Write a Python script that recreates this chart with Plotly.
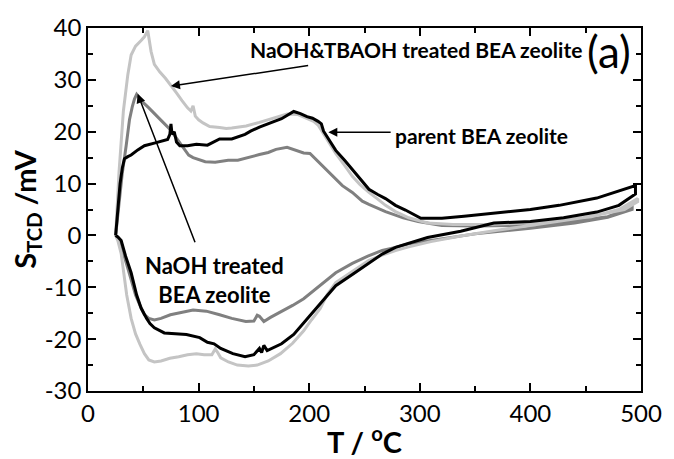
import plotly.graph_objects as go

# ---- data: parent BEA zeolite (black) ----
parent_up_x = [25, 27, 29, 31, 33, 36, 39, 45, 51, 60, 68, 72, 74, 75, 76, 78, 80, 83, 90, 98, 108, 119, 130, 142, 147, 155, 165, 175, 186, 192, 198, 203, 208, 211, 213, 218, 224, 232, 239, 246, 254, 262, 269, 278, 287, 301, 320, 340, 367, 400, 426, 460, 495]
parent_up_y = [0, 5, 10, 13, 14.8, 15.2, 15.5, 16.5, 17.3, 17.8, 18.3, 18.5, 19.5, 21.5, 19.5, 20.0, 18.0, 17.3, 17.3, 17.6, 17.4, 18.6, 18.6, 19.5, 20.1, 20.9, 21.7, 22.5, 23.9, 23.5, 22.9, 22.6, 22.0, 21.5, 20.1, 18.5, 16.4, 14.5, 12.7, 10.8, 8.9, 7.9, 7.1, 5.8, 4.9, 3.3, 3.3, 3.7, 4.3, 5.0, 5.8, 7.2, 9.6]
parent_lo_x = [495, 480, 460, 430, 400, 367, 337, 307, 278, 266, 254, 240, 224, 214, 204, 195, 186, 175, 166, 162, 159, 157, 155, 150, 142, 131, 120, 114, 108, 101, 89, 78, 69, 60, 56, 53, 48, 44, 39, 34, 30, 27, 25]
parent_lo_y = [8.0, 5.8, 4.5, 3.4, 2.7, 2.4, 0.8, -0.4, -2.3, -3.6, -5.4, -7.4, -9.7, -12.2, -14.7, -17.0, -19.1, -20.9, -21.9, -22.2, -21.2, -22.6, -21.8, -23.0, -23.4, -22.8, -21.8, -20.9, -20.6, -19.7, -19.1, -19.0, -18.8, -17.8, -17.0, -16.0, -14.0, -11.5, -7.2, -4.0, -1.0, -0.3, 0]

# ---- data: NaOH treated BEA zeolite (dark gray) ----
naoh_up_x = [25, 28, 31, 34.5, 37.5, 40, 42, 44, 46, 50, 55, 60, 67, 74.5, 80, 85, 89, 91, 95, 100, 106, 115, 126.7, 135.5, 147, 155, 163, 170, 180, 188, 195, 200.7, 209.6, 217, 224, 230, 239, 248, 254, 260, 269, 285, 298.5, 320, 350, 400, 440, 470, 492]
naoh_up_y = [0, 6, 12, 17.3, 22.3, 24.8, 26.3, 27.2, 26.6, 25.6, 24.6, 23.6, 22.0, 20.4, 18.8, 17.3, 16.1, 15.5, 15.0, 14.6, 14.2, 14.1, 14.5, 14.5, 15.2, 15.6, 16.0, 16.6, 17.0, 16.4, 15.9, 15.8, 13.9, 12.4, 10.8, 9.6, 8.3, 6.6, 6.0, 5.4, 4.6, 3.4, 2.7, 1.9, 1.8, 2.0, 2.8, 3.6, 5.5]
naoh_lo_x = [492, 470, 440, 400, 350, 310, 290, 278, 266, 253, 239, 224, 210, 195, 185, 174, 165, 159, 155, 153, 150, 142.7, 130, 119, 107, 95, 85, 74.5, 66, 60, 55, 51, 47, 43, 39, 35, 31, 28.6, 25]
naoh_lo_y = [5.0, 3.5, 2.4, 1.4, 0.3, -1.0, -1.6, -2.3, -2.9, -4.0, -5.4, -7.2, -9.6, -12.2, -13.5, -14.7, -15.8, -16.6, -15.6, -15.4, -16.5, -16.6, -16.0, -15.3, -14.6, -14.4, -14.8, -15.3, -16.0, -16.3, -16.0, -15.3, -13.5, -11.5, -8.5, -5.5, -2.8, -1.0, 0]

# ---- data: NaOH&TBAOH treated BEA zeolite (light gray) ----
tba_up_x = [25, 28, 32, 36, 39, 43, 48, 51, 54, 55, 57, 60, 65, 70, 75, 80, 85, 90, 93, 95, 97, 100, 104, 110, 119, 125, 130, 143, 155, 165, 172, 180, 190, 198, 204, 208, 213, 218, 224, 232, 239, 246, 254, 262, 269, 278, 290, 307, 330, 360, 396, 430, 455, 480, 497]
tba_up_y = [0, 12, 24, 31, 34.8, 36.5, 37.6, 38.3, 39.5, 38.0, 35.5, 33.0, 31.5, 30.3, 29.0, 27.5, 26.0, 24.6, 24.0, 25.0, 23.0, 22.3, 21.7, 21.0, 20.8, 20.6, 20.7, 21.1, 21.8, 22.5, 22.9, 23.4, 23.3, 22.6, 22.0, 21.3, 19.5, 17.8, 15.8, 13.5, 11.4, 9.8, 8.3, 7.0, 5.8, 4.6, 3.4, 2.4, 2.1, 2.1, 2.4, 3.0, 3.6, 5.0, 7.1]
tba_lo_x = [497, 485, 450, 420, 396, 370, 337, 310, 290, 278, 266, 254, 240, 224, 216, 210, 202, 195, 185, 174, 163, 153, 145, 135, 127, 120, 117, 115, 112, 105, 98, 90, 82, 74, 66, 60, 55, 51, 47, 43, 39, 35, 30, 27, 25]
tba_lo_y = [6.5, 5.0, 3.5, 2.6, 1.8, 1.0, -0.1, -1.2, -2.2, -2.9, -3.8, -4.8, -6.8, -9.1, -11.5, -14.1, -16.3, -18.4, -20.8, -22.8, -24.2, -25.0, -25.2, -25.0, -24.4, -23.6, -22.5, -21.9, -23.0, -23.0, -22.8, -23.0, -23.4, -23.7, -24.2, -24.4, -24.0, -22.8, -21.0, -19.0, -16.0, -11.5, -3.5, -1.0, 0]

x_ticks = [0, 100, 200, 300, 400, 500]
y_ticks = [-30, -20, -10, 0, 10, 20, 30, 40]

FONT = "Lato, sans-serif"

fig = go.Figure()
series = [
    (naoh_up_x + naoh_lo_x, naoh_up_y + naoh_lo_y, "#808080"),
    (tba_up_x + tba_lo_x, tba_up_y + tba_lo_y, "#c4c4c4"),
    (parent_up_x + parent_lo_x, parent_up_y + parent_lo_y, "#000000"),
]
for xs, ys, col in series:
    fig.add_trace(go.Scatter(x=xs, y=ys, mode="lines",
                             line=dict(color=col, width=3), showlegend=False))

axis_common = dict(showline=True, linecolor="black", linewidth=1.5, mirror="ticks",
                   ticks="inside", ticklen=8, tickwidth=1.5, tickcolor="black",
                   showgrid=False, zeroline=False, ticklabeloverflow="allow",
                   tickfont=dict(family=FONT, size=24, color="black"))
fig.update_xaxes(range=[0, 500], tickvals=x_ticks, ticktext=[str(v) for v in x_ticks],
                 minor=dict(ticks="inside", dtick=50, ticklen=5, tickcolor="black", tickwidth=1.5, showgrid=False),
                 title=dict(text="<b>T / <sup>o</sup>C</b>", font=dict(family=FONT, size=29, color="black"), standoff=0),
                 **axis_common)
fig.update_yaxes(range=[-30, 40], tickvals=y_ticks, ticktext=[str(v) for v in y_ticks],
                 minor=dict(ticks="inside", dtick=5, ticklen=5, tickcolor="black", tickwidth=1.5, showgrid=False),
                 title=dict(text="<b>S<sub>TCD</sub> /mV</b>", font=dict(family=FONT, size=29, color="black"), standoff=0),
                 **axis_common)

ann_font = dict(family=FONT, size=21, color="black")
fig.add_annotation(x=144.4, y=35.9, xref="x", yref="y", xanchor="left", yanchor="middle",
                   text="<b>NaOH&amp;TBAOH treated BEA zeolite</b>", showarrow=False, font=ann_font)
fig.add_annotation(x=449, y=35.6, xref="x", yref="y", xanchor="left", yanchor="middle",
                   text="(a)", showarrow=False, font=dict(family=FONT, size=44, color="black"))
fig.add_annotation(x=276, y=19.3, xref="x", yref="y", xanchor="left", yanchor="middle",
                   text="<b>parent BEA zeolite</b>", showarrow=False, font=ann_font)
fig.add_annotation(x=114.2, y=-8.5, xref="x", yref="y", xanchor="center", yanchor="middle",
                   text="<b>NaOH treated<br>BEA zeolite</b>", showarrow=False, font=dict(family=FONT, size=22, color="black"))

arrows = [((75, 28.8), (200.4, 32.8)), ((217.3, 19.9), (275, 19.9)), ((44.9, 27.3), (97.3, -1.6))]
for (hx, hy), (tx, ty) in arrows:
    fig.add_annotation(x=hx, y=hy, ax=tx, ay=ty, xref="x", yref="y", axref="x", ayref="y",
                       text="", showarrow=True, arrowhead=2, arrowsize=1.2, arrowwidth=1.5,
                       arrowcolor="black", standoff=0, startstandoff=0)

fig.update_layout(width=674, height=459, margin=dict(l=88, r=24, t=20, b=64),
                  plot_bgcolor="white", paper_bgcolor="white",
                  font=dict(family=FONT, color="black"))
fig.write_html("out.html")
